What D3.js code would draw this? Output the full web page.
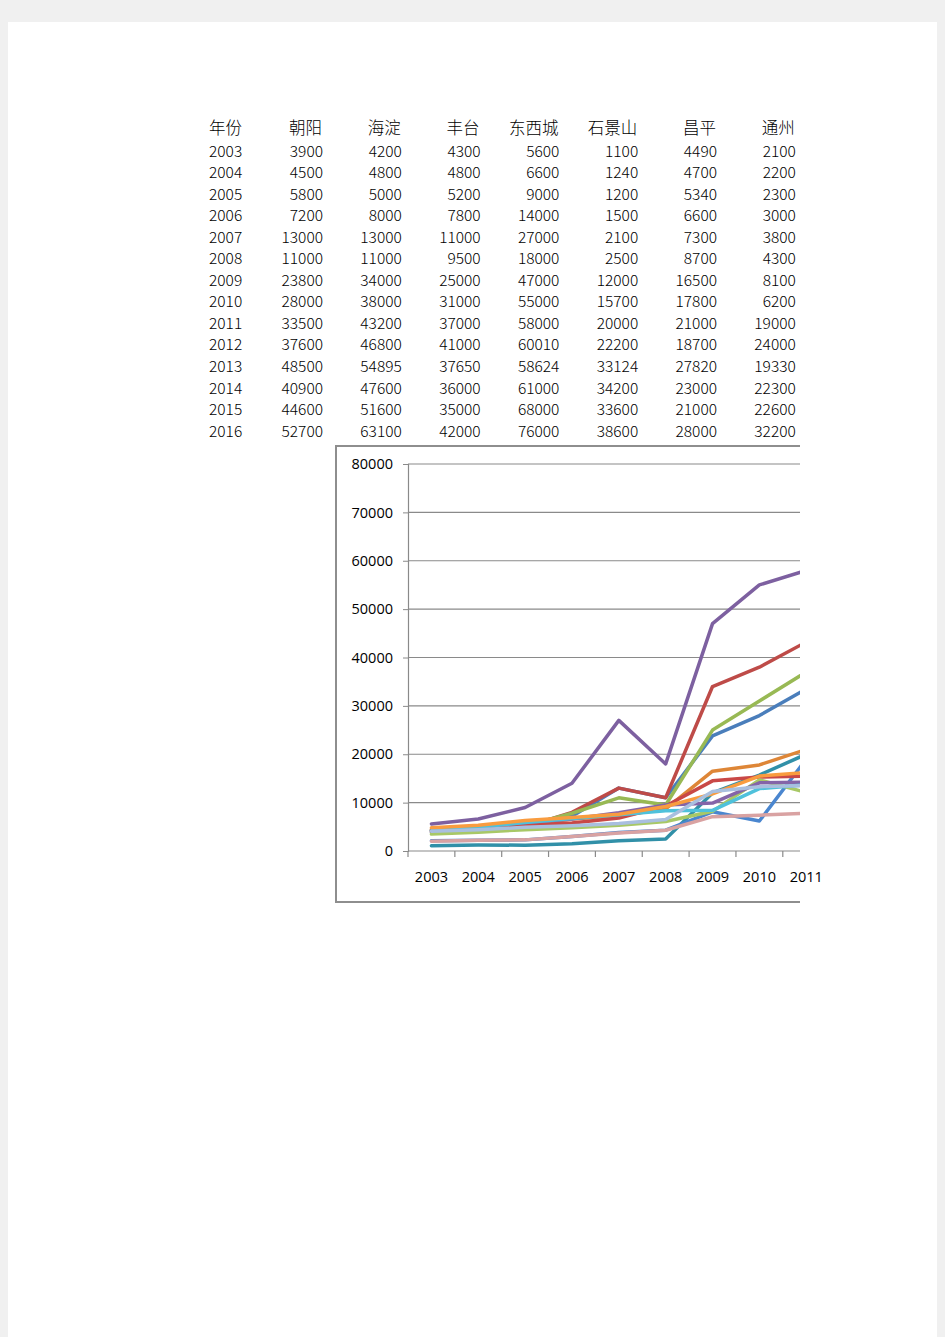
<!DOCTYPE html>
<html><head><meta charset="utf-8">
<script src="https://cdn.jsdelivr.net/npm/d3@7"></script>
<style>
html,body{margin:0;padding:0;background:#f0f0f0;}
svg{display:block;}
</style></head>
<body>
<svg id="c" width="945" height="1337"></svg>
<script>
// ---- data ----
const years = [2003,2004,2005,2006,2007,2008,2009,2010,2011,2012,2013,2014,2015,2016];
const columns = ["朝阳","海淀","丰台","东西城","石景山","昌平","通州"];
const chaoyang   = [3900,4500,5800,7200,13000,11000,23800,28000,33500,37600,48500,40900,44600,52700];
const haidian    = [4200,4800,5000,8000,13000,11000,34000,38000,43200,46800,54895,47600,51600,63100];
const fengtai    = [4300,4800,5200,7800,11000,9500,25000,31000,37000,41000,37650,36000,35000,42000];
const dongxicheng= [5600,6600,9000,14000,27000,18000,47000,55000,58000,60010,58624,61000,68000,76000];
const shijingshan= [1100,1240,1200,1500,2100,2500,12000,15700,20000,22200,33124,34200,33600,38600];
const changping  = [4490,4700,5340,6600,7300,8700,16500,17800,21000,18700,27820,23000,21000,28000];
const tongzhou   = [2100,2200,2300,3000,3800,4300,8100,6200,19000,24000,19330,22300,22600,32200];
// further series plotted in the chart (columns beyond the printed area), read 2003-2011
const hidden8  = [4000,4600,5300,5800,6800,9300,14500,15300,15500];
const hidden9  = [3500,3900,4400,4800,5300,6100,8200,14700,12100];
const hidden10 = [4300,5000,5900,6600,7900,9500,9900,14100,14200];
const hidden11 = [4200,4900,5900,6700,7500,8300,8400,12900,13700];
const hidden12 = [4800,5300,6300,6900,7600,9200,11800,15500,16200];
const hidden13 = [4100,4400,4900,5200,5700,6500,12300,13300,13500];
const hidden14 = [2000,2200,2300,3000,3700,4300,7100,7400,7800];
const yTicks = [0,10000,20000,30000,40000,50000,60000,70000,80000];
const xLabels = [2003,2004,2005,2006,2007,2008,2009,2010,2011]; // categories visible in the printed area

const tableSeries = [chaoyang,haidian,fengtai,dongxicheng,shijingshan,changping,tongzhou];
const chartSeries = [chaoyang,haidian,fengtai,dongxicheng,shijingshan,changping,tongzhou,
                     hidden8,hidden9,hidden10,hidden11,hidden12,hidden13,hidden14];
const colors = ["#4A7EBB","#BE4B48","#98B954","#7D60A0","#3190A8","#DE8637","#4A86CF",
                "#C94846","#A8C866","#8464A8","#4FC1DB","#F99C3F","#A9BFDF","#D9A2A2"];

const svg = d3.select("#c");
// page
svg.append("rect").attr("x",8).attr("y",22).attr("width",929).attr("height",1400).attr("fill","#fff");

// ---- table ----
const tbl = svg.append("g").attr("font-family","'Noto Sans CJK SC', sans-serif")
  .attr("font-weight",300).attr("fill","#000");
const rowY = d3.scaleLinear().domain([0,1]).range([151,172.54]); // data rows
const headerY = 128;
const colRight = d3.scaleLinear().domain([0,1]).range([323,401.8]);
tbl.append("text").attr("x",209).attr("y",headerY).attr("dy","0.36em").attr("font-size",16.5).text("年份");
columns.forEach((c,i)=>{
  tbl.append("text").attr("x",colRight(i)-1).attr("y",headerY).attr("dy","0.36em")
    .attr("text-anchor","end").attr("font-size",16.5).text(c);
});
years.forEach((yr,r)=>{
  tbl.append("text").attr("x",209).attr("y",rowY(r)).attr("dy","0.36em").attr("font-size",15.5).text(yr);
  tableSeries.forEach((s,i)=>{
    tbl.append("text").attr("x",colRight(i)).attr("y",rowY(r)).attr("dy","0.36em")
      .attr("text-anchor","end").attr("font-size",15.5).text(s[r]);
  });
});

// ---- chart ----
svg.append("clipPath").attr("id","clip").append("rect").attr("x",0).attr("y",0).attr("width",800).attr("height",1337);
const ch = svg.append("g").attr("clip-path","url(#clip)");

// chart frame
ch.append("rect").attr("x",336).attr("y",446).attr("width",600).attr("height",456)
  .attr("fill","#fff").attr("stroke","#8e8e8e").attr("stroke-width",2);

const x = d3.scaleBand().domain(years).range([408,408+46.85*years.length]);
const y = d3.scaleLinear().domain([0,80000]).range([851,464]);

// gridlines
ch.append("g").selectAll("line").data(yTicks.slice(1)).join("line")
  .attr("x1",408).attr("x2",x.range()[1]).attr("y1",d=>y(d)).attr("y2",d=>y(d))
  .attr("stroke","#8a8a8a").attr("stroke-width",1.2);

// y axis
const ya = ch.append("g").attr("transform","translate(408,0)")
  .call(d3.axisLeft(y).tickValues(yTicks).tickSize(5).tickPadding(10).tickFormat(d3.format("d")));
ya.select(".domain").attr("stroke","#8a8a8a").attr("stroke-width",1.2);
ya.selectAll(".tick line").attr("stroke","#8a8a8a");
ya.selectAll("text").attr("font-family","'Open Sans', sans-serif").attr("font-size",14.5).attr("fill","#000");

// x axis line + ticks (clipped)
ch.append("line").attr("x1",408).attr("x2",x.range()[1]).attr("y1",851).attr("y2",851)
  .attr("stroke","#8a8a8a").attr("stroke-width",1.2);
ch.append("g").selectAll("line").data(years).join("line")
  .attr("x1",d=>x(d)).attr("x2",d=>x(d)).attr("y1",851).attr("y2",857)
  .attr("stroke","#8a8a8a").attr("stroke-width",1.2);

// x labels (not clipped, as in the print)
const xa = svg.append("g").attr("transform","translate(0,851)")
  .call(d3.axisBottom(x).tickValues(xLabels).tickSize(0).tickPadding(21).tickSizeOuter(0));
xa.select(".domain").remove();
xa.selectAll("text").attr("font-family","'Open Sans', sans-serif").attr("font-size",14.5).attr("fill","#000");

// lines
const line = d3.line().x((d,i)=>x(years[i])+x.bandwidth()/2).y(d=>y(d));
ch.append("g").selectAll("path").data(chartSeries).join("path")
  .attr("d",d=>line(d)).attr("fill","none")
  .attr("stroke",(d,i)=>colors[i]).attr("stroke-width",3.5)
  .attr("stroke-linejoin","round").attr("stroke-linecap","round");
</script>
</body></html>
